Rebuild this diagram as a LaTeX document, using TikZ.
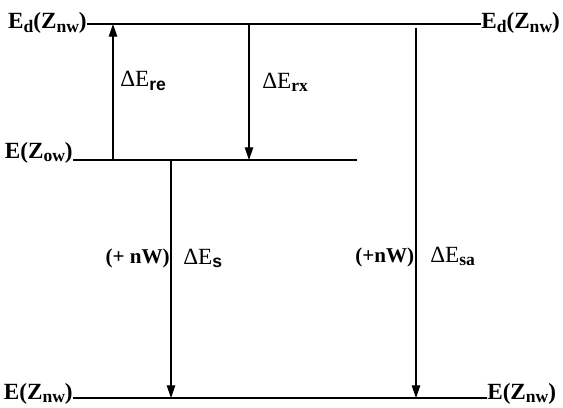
\documentclass[tikz,border=0pt]{standalone}
\usepackage{fontspec}
\setmainfont{Liberation Serif}
\newfontfamily\subsans{Liberation Sans}
\usetikzlibrary{arrows.meta}
% lowered subscripts in text
\newcommand{\lsub}[1]{\raisebox{-0.35ex}{\fontsize{12.5}{13}\selectfont\bfseries #1}}
\newcommand{\lsubsf}[1]{\raisebox{-0.35ex}{\fontsize{12.5}{13}\selectfont\subsans\bfseries #1}}

\begin{document}
\begin{tikzpicture}[x=0.025cm, y=-0.025cm,
  every node/.style={font=\fontsize{16.5}{20}\selectfont, inner sep=0pt},
  work/.style={font=\fontsize{15}{18}\selectfont\bfseries},
  level/.style={line width=0.9pt},
  jump/.style={line width=0.9pt, -{Triangle[length=9pt,width=6pt]}}]
\useasboundingbox (0,0) rectangle (563,407);
% level labels
\node[anchor=base east] (dl) at (87,29) {\textbf{E\lsub{d}(Z\lsub{nw})}};
\node[anchor=base west] (dr) at (481,29) {\textbf{E\lsub{d}(Z\lsub{nw})}};
\node[anchor=base east] (ol) at (73,158) {\textbf{E(Z\lsub{ow})}};
\node[anchor=base east] (nl) at (73,399) {\textbf{E(Z\lsub{nw})}};
\node[anchor=base west] (nr) at (487,399) {\textbf{E(Z\lsub{nw})}};
% levels
\coordinate (oe) at (357,160);
\coordinate (dy) at (0,24);
\coordinate (ny) at (0,398);
\draw[level] (dl.east |- dy) -- (dr.west |- dy);
\draw[level] (ol.base east |- oe) -- (oe);
\draw[level] (nl.east |- ny) -- (nr.west |- ny);
% transitions
\coordinate (re0) at (113,160);
\coordinate (re1) at (113,24);
\coordinate (rx0) at (249,24);
\coordinate (rx1) at (249,160);
\coordinate (s0) at (171,160);
\coordinate (s1) at (171,398);
\coordinate (sa0) at (416,28);
\coordinate (sa1) at (416,398);
\draw[jump] (re0) -- (re1);
\draw[jump] (rx0) -- (rx1);
\draw[jump] (s0) -- (s1);
\draw[jump] (sa0) -- (sa1);
% energy labels
\node[anchor=base west] (lre) at (120,87) {ΔE\lsubsf{re}};
\node[anchor=base west] (lrx) at (262,88) {ΔE\lsub{rx}};
\node[anchor=base east, work] (lws) at (170,263) {(+ nW)};
\node[anchor=base west] (ls) at (183,264) {ΔE\lsubsf{s}};
\node[anchor=base west, work] (lwsa) at (355,262) {(+nW)};
\node[anchor=base west] (lsa) at (430,262) {ΔE\lsub{sa}};
\end{tikzpicture}
\end{document}
